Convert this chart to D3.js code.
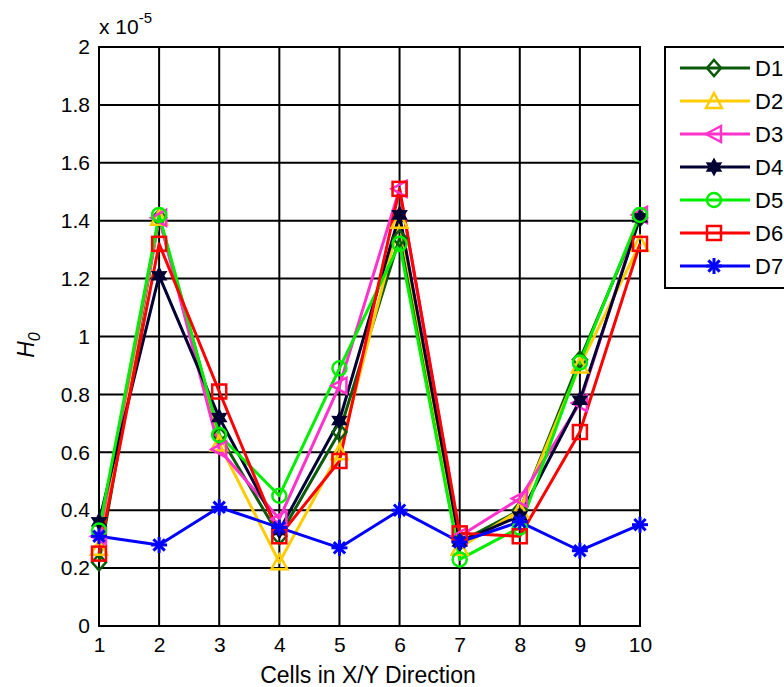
<!DOCTYPE html>
<html><head><meta charset="utf-8">
<script src="https://cdn.jsdelivr.net/npm/d3@7"></script>
<style>body{margin:0;background:#fff}svg{display:block}text{font-family:"Liberation Sans",Arial,sans-serif}</style>
</head><body>
<script>
const cells = [1,2,3,4,5,6,7,8,9,10];
const yTicks = [0,0.2,0.4,0.6,0.8,1,1.2,1.4,1.6,1.8,2];
const yTickLabels = ["0","0.2","0.4","0.6","0.8","1","1.2","1.4","1.6","1.8","2"];
const seriesNames = ["D1","D2","D3","D4","D5","D6","D7"];
const D1 = [0.22,1.41,0.66,0.31,0.67,1.34,0.29,0.40,0.92,1.41];
const D2 = [0.27,1.41,0.63,0.22,0.60,1.40,0.27,0.40,0.90,1.32];
const D3 = [0.31,1.41,0.61,0.37,0.83,1.51,0.31,0.44,0.77,1.42];
const D4 = [0.36,1.21,0.72,0.33,0.71,1.42,0.29,0.38,0.78,1.41];
const D5 = [0.33,1.42,0.66,0.45,0.89,1.32,0.23,0.34,0.91,1.42];
const D6 = [0.25,1.32,0.81,0.31,0.57,1.51,0.32,0.31,0.67,1.32];
const D7 = [0.31,0.28,0.41,0.34,0.27,0.40,0.29,0.36,0.26,0.35];
const colors = ["#0a5a0a","#ffcc00","#ff33cc","#000033","#00ee00","#ff0000","#0000ff"];
const markers = ["diamond","triangleUp","triangleLeft","hexagram","circle","square","asterisk"];
const allSeries = [D1,D2,D3,D4,D5,D6,D7];

const W=784,H=687;
const svg=d3.select("body").append("svg").attr("width",W).attr("height",H);
const x=d3.scaleLinear().domain([1,10]).range([99,640]);
const y=d3.scaleLinear().domain([0,2]).range([626,47]);
const FONT="Liberation Sans, Arial, sans-serif";

// grid
const g=svg.append("g");
g.selectAll(".vg").data(cells).enter().append("line")
 .attr("x1",d=>x(d)).attr("x2",d=>x(d)).attr("y1",y(0)).attr("y2",y(2))
 .attr("stroke","#000").attr("stroke-width",2);
g.selectAll(".hg").data(yTicks).enter().append("line")
 .attr("y1",d=>y(d)).attr("y2",d=>y(d)).attr("x1",x(1)).attr("x2",x(10))
 .attr("stroke","#000").attr("stroke-width",2);
svg.append("rect").attr("x",x(1)).attr("y",y(2)).attr("width",x(10)-x(1)).attr("height",y(0)-y(2))
 .attr("fill","none").attr("stroke","#000").attr("stroke-width",2);

// axes labels
const xa=d3.axisBottom(x).tickValues(cells).tickSize(0).tickPadding(11).tickFormat(d3.format("d"));
const xg=svg.append("g").attr("transform",`translate(0,${y(0)})`).call(xa);
xg.select(".domain").remove();
xg.selectAll("text").attr("font-size",21).attr("fill","#000").style("font-family",FONT);
const ya=d3.axisLeft(y).tickValues(yTicks).tickSize(0).tickPadding(9).tickFormat((d,i)=>yTickLabels[i]);
const yg=svg.append("g").attr("transform",`translate(${x(1)},0)`).call(ya);
yg.select(".domain").remove();
yg.selectAll("text").attr("font-size",21).attr("fill","#000").style("font-family",FONT);

// exponent
const ex=svg.append("text").attr("x",99).attr("y",34).attr("font-size",21).attr("fill","#000");
ex.append("tspan").text("x 10");
ex.append("tspan").attr("dy",-11).attr("font-size",15).text("-5");

svg.append("text").attr("x",368).attr("y",683).attr("text-anchor","middle").attr("font-size",23).text("Cells in X/Y Direction");
const yl=svg.append("text").attr("transform","translate(34,345) rotate(-90)").attr("text-anchor","middle").attr("font-size",23).attr("font-style","italic");
yl.append("tspan").text("H");
yl.append("tspan").attr("dy",6).attr("font-size",16).text("0");

function drawMarker(sel,type,color){
  const s=7;
  if(type==="diamond") sel.append("path").attr("d",`M0,${-s-1}L${s},0L0,${s+1}L${-s},0Z`).attr("fill","none").attr("stroke",color).attr("stroke-width",2.5);
  else if(type==="triangleUp") sel.append("path").attr("d",`M0,${-s-1}L${s+1},${s}L${-s-1},${s}Z`).attr("fill","none").attr("stroke",color).attr("stroke-width",2.5);
  else if(type==="triangleLeft") sel.append("path").attr("d",`M${-s-1},0L${s},${-s-1}L${s},${s+1}Z`).attr("fill","none").attr("stroke",color).attr("stroke-width",2.5);
  else if(type==="circle") sel.append("circle").attr("r",s).attr("fill","none").attr("stroke",color).attr("stroke-width",2.5);
  else if(type==="square") sel.append("rect").attr("x",-s).attr("y",-s).attr("width",2*s).attr("height",2*s).attr("fill","none").attr("stroke",color).attr("stroke-width",2.5);
  else if(type==="hexagram"){
    const r=8,pts=[];
    for(let i=0;i<12;i++){const a=-Math.PI/2+i*Math.PI/6;const rr=i%2?r*0.55:r;pts.push([rr*Math.cos(a),rr*Math.sin(a)]);}
    sel.append("path").attr("d","M"+pts.map(p=>p.join(",")).join("L")+"Z").attr("fill",color).attr("stroke",color).attr("stroke-width",1.5);
  } else if(type==="asterisk"){
    const r=8;
    for(let i=0;i<4;i++){const a=i*Math.PI/4;sel.append("line").attr("x1",-r*Math.cos(a)).attr("y1",-r*Math.sin(a)).attr("x2",r*Math.cos(a)).attr("y2",r*Math.sin(a)).attr("stroke",color).attr("stroke-width",3);}
  }
}

const line=d3.line().x((d,i)=>x(cells[i])).y(d=>y(d));
allSeries.forEach((s,k)=>{
  svg.append("path").datum(s).attr("d",line).attr("fill","none").attr("stroke",colors[k]).attr("stroke-width",3).attr("stroke-linejoin","round");
});
allSeries.forEach((s,k)=>{
  s.forEach((v,i)=>{
    const m=svg.append("g").attr("transform",`translate(${x(cells[i])},${y(v)})`);
    drawMarker(m,markers[k],colors[k]);
  });
});

// legend
const lg=svg.append("g");
lg.append("rect").attr("x",665).attr("y",47).attr("width",130).attr("height",241).attr("fill","#fff").attr("stroke","#000").attr("stroke-width",2);
seriesNames.forEach((n,k)=>{
  const ly=68+k*33;
  lg.append("line").attr("x1",680).attr("x2",750).attr("y1",ly).attr("y2",ly).attr("stroke",colors[k]).attr("stroke-width",3);
  const m=lg.append("g").attr("transform",`translate(714,${ly})`);
  drawMarker(m,markers[k],colors[k]);
  lg.append("text").attr("x",755).attr("y",ly+8).attr("font-size",22).text(n);
});
</script>
</body></html>
